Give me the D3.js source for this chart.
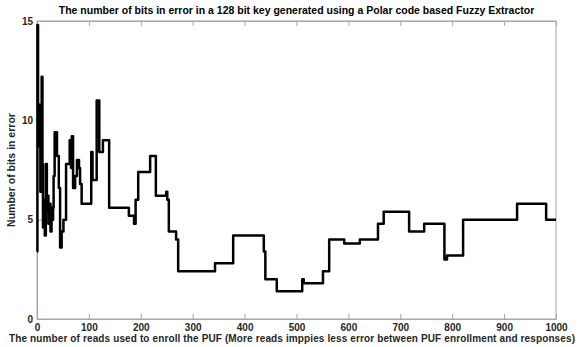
<!DOCTYPE html>
<html>
<head>
<meta charset="utf-8">
<script src="https://cdn.jsdelivr.net/npm/d3@7"></script>
<style>
  body { margin: 0; background: #fff; }
  text { font-family: "Liberation Sans", Arial, sans-serif; font-weight: bold; fill: #262626; }
  .axis path, .axis line { stroke: #a6a6a6; }
</style>
</head>
<body>
<script>
    //data: reads used for enrollment and the bits in error (step changes)
    var reads = [0, 0.8, 2, 3, 4.5, 5.5, 6.5, 7.5, 9, 10.5, 11.5, 13, 15, 17, 19, 20.5,
        22, 24, 26, 28, 30, 31, 32, 34, 38.5, 42, 44.5, 47.5, 51, 56, 63, 65.5,
        67, 69.5, 73.5, 77, 81, 83, 86, 104.5, 107, 115, 120, 127, 139, 177, 187,
        190, 195, 218, 229, 249, 251, 254, 268, 272, 343, 378, 437, 440, 462, 511,
        514, 551, 563, 592, 622, 657, 668, 717, 746, 785, 790, 821, 925, 981, 1000];
    var bitErrors = [3.4, 14.8, 8.7, 10.8, 8.8, 10.2, 6.4, 8.8, 12.2, 7.8, 4.6, 6.0, 4.2, 7.8, 5.4, 6.2,
        4.8, 5.8, 4.4, 5.6, 5.0, 5.6, 7.2, 9.4, 8.2, 6.6, 3.6, 4.4, 5.0, 7.8, 9.0, 7.6,
        9.2, 6.6, 7.2, 8.0, 7.6, 6.8, 5.8, 8.4, 7.0, 11.0, 8.4, 9.0, 5.6, 5.2, 4.8,
        6.0, 7.4, 8.2, 6.2, 6.4, 6.0, 4.4, 4.0, 2.4, 2.8, 4.2, 3.4, 2.0, 1.4, 2.0,
        1.8, 2.4, 4.0, 3.8, 4.0, 4.8, 5.4, 4.4, 4.8, 3.0, 3.2, 5.0, 5.8, 5.0, 5.0];

    //tick values
    var xTicks = [0, 100, 200, 300, 400, 500, 600, 700, 800, 900, 1000];
    var yTicks = [0, 5, 10, 15];

    var width = 581;
    var height = 347;

    var margin = {
        left: 37,
        right: 25,
        top: 21,
        bottom: 28
    }
    var w = width - margin.left - margin.right;
    var h = height - margin.top - margin.bottom;

    var xScale = d3.scaleLinear()
        .domain([0, 1000])
        .range([0, w]);

    var yScale = d3.scaleLinear()
        .domain([0, 15])
        .range([h, 0]);

    var svg = d3.select("body")
        .append("svg")
        .attr("width", width)
        .attr("height", height);

    var chartGroup = svg.append("g")
        .attr("transform", "translate(" + margin.left + "," + margin.top + ")");

    //box
    chartGroup.append("rect")
        .attr("width", w)
        .attr("height", h)
        .attr("fill", "none")
        .attr("stroke", "#a6a6a6");

    //bottom axis, ticks pointing in
    var xAxis = chartGroup.append("g")
        .attr("class", "axis x")
        .attr("transform", "translate(0," + h + ")")
        .call(d3.axisBottom(xScale).tickValues(xTicks).tickFormat(d3.format("d")).tickSizeInner(-5).tickSizeOuter(0).tickPadding(5));
    xAxis.selectAll("text").style("font-size", "10px");

    //top ticks
    chartGroup.append("g")
        .attr("class", "axis")
        .call(d3.axisTop(xScale).tickValues(xTicks).tickSizeInner(-5).tickSizeOuter(0).tickFormat(""));

    var yAxis = chartGroup.append("g")
        .attr("class", "axis y")
        .call(d3.axisLeft(yScale).tickValues(yTicks).tickSizeInner(-5).tickSizeOuter(0).tickPadding(4));
    yAxis.selectAll("text").style("font-size", "10px");

    //the step line
    var line = d3.line()
        .x(function (d, i) { return xScale(reads[i]); })
        .y(function (d, i) { return yScale(bitErrors[i]); })
        .curve(d3.curveStepAfter);

    chartGroup.append("path")
        .datum(bitErrors)
        .attr("fill", "none")
        .attr("stroke", "#000")
        .attr("stroke-width", 2.5)
        .attr("stroke-linejoin", "round")
        .attr("d", line);

    //title and labels
    svg.append("text")
        .attr("x", margin.left + w / 2)
        .attr("y", 14)
        .attr("text-anchor", "middle")
        .style("font-size", "10.5px")
        .style("fill", "#000")
        .text("The number of bits in error in a 128 bit key generated using a Polar code based Fuzzy Extractor");

    svg.append("text")
        .attr("x", 292)
        .attr("y", 342)
        .attr("text-anchor", "middle")
        .style("font-size", "10px")
        .attr("textLength", 566)
        .text("The number of reads used to enroll the PUF (More reads imppies less error between PUF enrollment and responses)");

    svg.append("text")
        .attr("transform", "translate(15," + (margin.top + h / 2) + ") rotate(-90)")
        .attr("text-anchor", "middle")
        .style("font-size", "10.5px")
        .text("Number of bits in error");
</script>
</body>
</html>
